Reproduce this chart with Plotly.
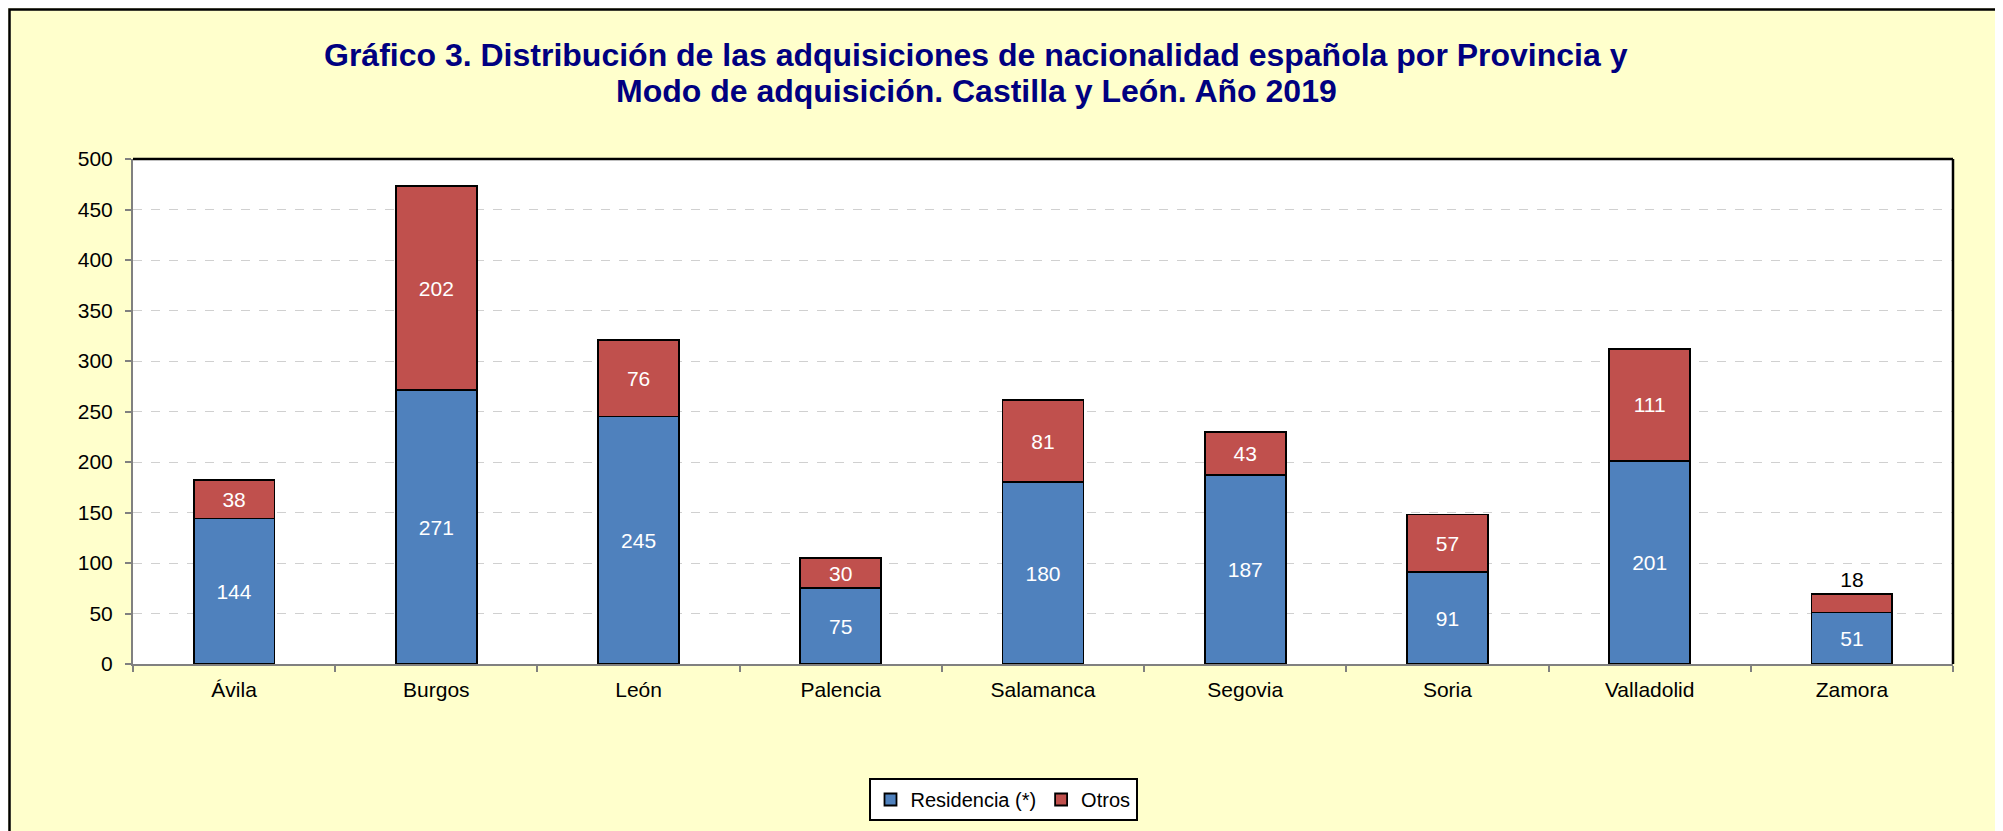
import plotly.graph_objects as go

provincias = ["Ávila", "Burgos", "León", "Palencia", "Salamanca", "Segovia", "Soria", "Valladolid", "Zamora"]
residencia = [144, 271, 245, 75, 180, 187, 91, 201, 51]
otros = [38, 202, 76, 30, 81, 43, 57, 111, 18]
y_ticks = [0, 50, 100, 150, 200, 250, 300, 350, 400, 450, 500]
titulo = [
    "Gráfico 3. Distribución de las adquisiciones de nacionalidad española por Provincia y",
    "Modo de adquisición. Castilla y León. Año 2019",
]

# the page body adds an 8px offset; the figure is sized to fit the window
OFF = 8
W, H = 2003 - OFF, 831 - OFF
L, R, T, B = 133 - OFF, 50, 159 - OFF, 167
pw = W - L - R
ph = H - T - B

def px(x):
    return (x - OFF - L) / pw

def py(y):
    return (H - B - (y - OFF)) / ph

FONT = "Liberation Sans, Arial, sans-serif"

fig = go.Figure()
fig.add_trace(go.Bar(
    x=provincias, y=residencia, name="Residencia (*)",
    marker=dict(color="#4F81BD", line=dict(color="black", width=1.8)),
    text=[str(v) for v in residencia], textposition="inside",
    insidetextanchor="middle", textangle=0,
    insidetextfont=dict(color="white", size=21, family=FONT),
))
otros_pos = ["outside" if v < 25 else "inside" for v in otros]
fig.add_trace(go.Bar(
    x=provincias, y=otros, name="Otros",
    marker=dict(color="#C0504D", line=dict(color="black", width=1.8)),
    text=[str(v) for v in otros], textposition=otros_pos,
    insidetextanchor="middle", textangle=0, cliponaxis=False,
    insidetextfont=dict(color="white", size=21, family=FONT),
    outsidetextfont=dict(color="black", size=21, family=FONT),
))

annotations = []
for i, line in enumerate(titulo):
    annotations.append(dict(
        text="<b>" + line + "</b>", xref="paper", yref="paper",
        x=px(976), xanchor="center", y=py(55 + 36 * i), yanchor="middle",
        showarrow=False, font=dict(family=FONT, size=32, color="#000080"),
    ))

fig.update_layout(
    width=W, height=H,
    margin=dict(l=L, r=R, t=T, b=B, autoexpand=False),
    barmode="stack", bargap=0.6,
    paper_bgcolor="#FFFFCC", plot_bgcolor="white",
    font=dict(family=FONT, size=21, color="black"),
    uniformtext=dict(minsize=21, mode="show"),
    annotations=annotations,
    xaxis=dict(
        showline=True, linecolor="#808080", linewidth=2,
        ticks="outside", tickson="boundaries", ticklen=6, tickcolor="#808080", tickwidth=2,
        tickfont=dict(size=21), showgrid=False, ticklabelstandoff=6,
    ),
    yaxis=dict(
        range=[0, 500], tickvals=y_ticks, showline=True, linecolor="#808080", linewidth=2,
        ticks="outside", ticklen=6, tickcolor="#808080", tickwidth=2,
        tickfont=dict(size=21), showgrid=True, gridcolor="#D0D0D0", griddash="dash", gridwidth=1,
        zeroline=False, ticklabelstandoff=8,
    ),
    legend=dict(
        orientation="h", x=px(1003), xanchor="center", y=py(778), yanchor="top",
        bgcolor="white", bordercolor="black", borderwidth=2,
        font=dict(size=20), traceorder="normal",
    ),
    shapes=[
        dict(type="line", xref="paper", yref="paper", x0=0, x1=1, y0=1, y1=1,
             line=dict(color="black", width=2.5)),
        dict(type="line", xref="paper", yref="paper", x0=1, x1=1, y0=0, y1=1,
             line=dict(color="black", width=2.5)),
        dict(type="rect", xref="paper", yref="paper", x0=px(OFF + 1.5), x1=px(1998), y0=py(840), y1=py(OFF + 1.5),
             line=dict(color="black", width=2.5), fillcolor="rgba(0,0,0,0)", layer="above"),
    ],
)

fig.write_html("out.html")
